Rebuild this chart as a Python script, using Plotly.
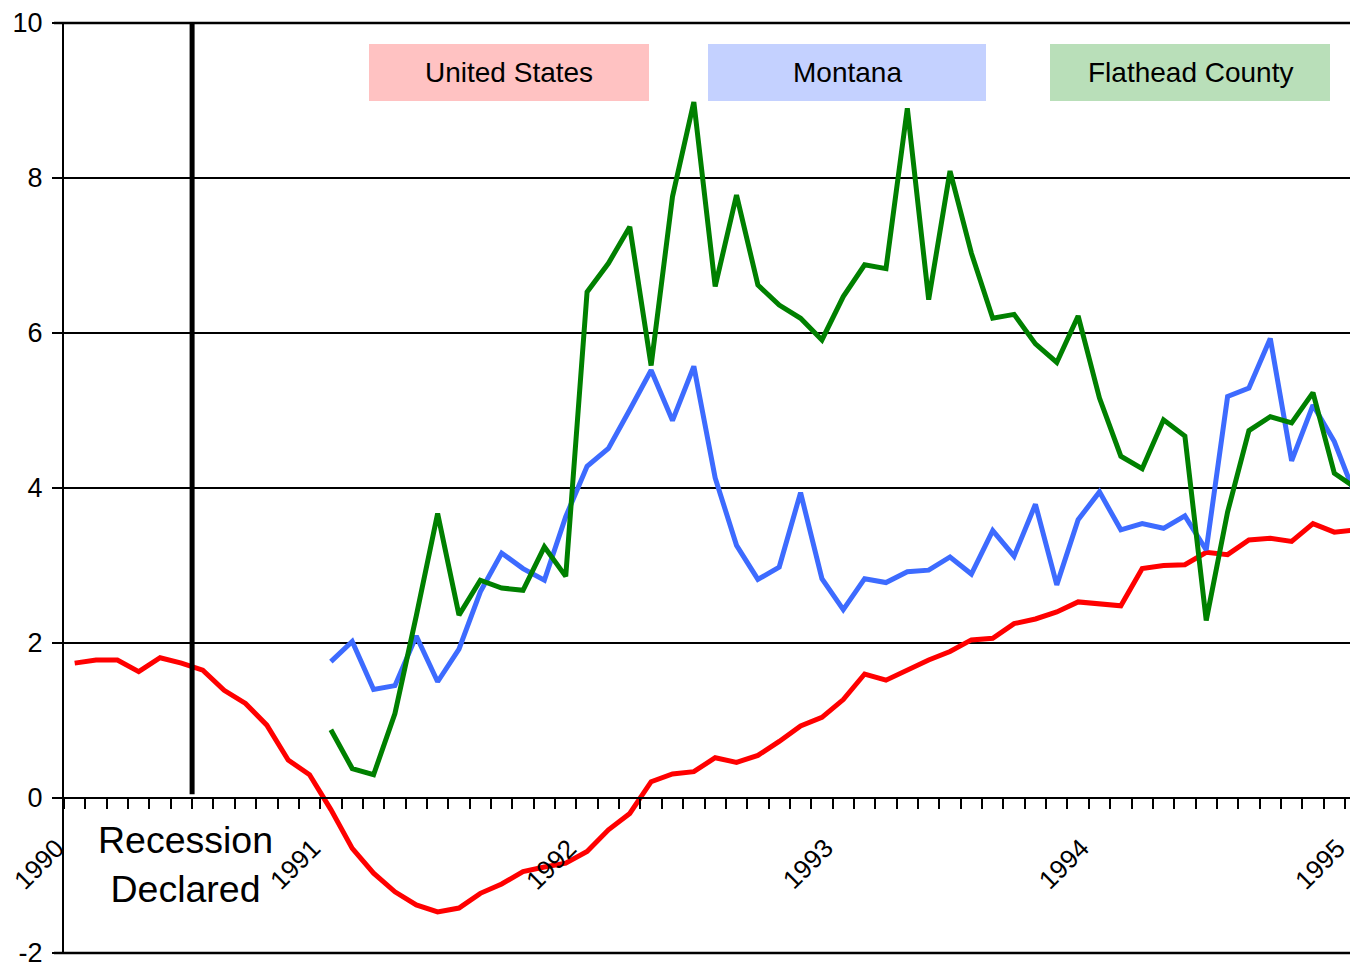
import numpy as np
import plotly.graph_objects as go

# ---- data (monthly, Jan 1990 .. Jan 1995) ----
year_labels = ["1990", "1991", "1992", "1993", "1994", "1995"]
series_names = ["United States", "Montana", "Flathead County"]
y_tick_values = [-2, 0, 2, 4, 6, 8, 10]
y_tick_labels = ["-2", "0", "2", "4", "6", "8", "10"]

us_values = [1.74, 1.78, 1.78, 1.63, 1.81, 1.74, 1.65, 1.39, 1.22, 0.94, 0.49, 0.30,
             -0.15, -0.65, -0.97, -1.21, -1.38, -1.47, -1.42, -1.23, -1.11, -0.95, -0.89, -0.84,
             -0.69, -0.41, -0.20, 0.21, 0.31, 0.34, 0.52, 0.46, 0.55, 0.73, 0.93, 1.04,
             1.27, 1.60, 1.52, 1.65, 1.78, 1.89, 2.04, 2.06, 2.25, 2.31, 2.40, 2.53,
             2.50, 2.48, 2.96, 3.00, 3.01, 3.17, 3.14, 3.33, 3.35, 3.31, 3.54, 3.43,
             3.46]

montana_values = [None] * 12 + [
             1.76, 2.02, 1.40, 1.45, 2.09, 1.50, 1.92, 2.66, 3.16, 2.96, 2.81, 3.63,
             4.28, 4.51, 5.01, 5.52, 4.87, 5.57, 4.13, 3.26, 2.82, 2.98, 3.94, 2.83,
             2.43, 2.83, 2.78, 2.92, 2.94, 3.11, 2.89, 3.45, 3.12, 3.79, 2.75, 3.59,
             3.95, 3.46, 3.54, 3.48, 3.64, 3.20, 5.18, 5.29, 5.93, 4.35, 5.07, 4.60,
             3.89]

flathead_values = [None] * 12 + [
             0.88, 0.38, 0.30, 1.09, 2.35, 3.67, 2.36, 2.81, 2.71, 2.68, 3.24, 2.86,
             6.53, 6.90, 7.37, 5.58, 7.76, 8.98, 6.60, 7.78, 6.62, 6.36, 6.19, 5.91,
             6.47, 6.88, 6.83, 8.90, 6.43, 8.09, 7.03, 6.19, 6.24, 5.86, 5.62, 6.22,
             5.16, 4.41, 4.25, 4.88, 4.67, 2.29, 3.69, 4.74, 4.92, 4.84, 5.23, 4.19,
             4.00]

recession_month = 6  # July 1990
recession_text = "Recession<br>Declared"

# ---- layout constants (page pixels; the page body adds an 8px offset) ----
OFF = 8
W, H = 1358, 968
PLOT_LEFT_PAGE, PLOT_TOP_PAGE, PLOT_BOTTOM_PAGE = 64, 23, 953
ML = PLOT_LEFT_PAGE - OFF
MT = PLOT_TOP_PAGE - OFF
PH = PLOT_BOTTOM_PAGE - PLOT_TOP_PAGE
MB = H - MT - PH
MR = 0
PW = W - ML - MR
px_per_month = 21.35
x_end = PW / px_per_month

months = np.arange(len(us_values)) + 0.5   # points centred in each month slot

line_colors = ["#ff0000", "#3d6bff", "#008000"]
box_colors = ["rgba(255,110,110,0.42)", "rgba(100,135,255,0.38)", "rgba(70,170,70,0.38)"]
FONT = "Liberation Sans, Arial, sans-serif"


def pxx(page_px):
    return (page_px - PLOT_LEFT_PAGE) / PW


def pxy(page_py):
    return (PLOT_BOTTOM_PAGE - page_py) / PH


fig = go.Figure()
for name, vals, col in zip(series_names, [us_values, montana_values, flathead_values], line_colors):
    fig.add_trace(go.Scatter(x=months, y=vals, mode="lines", name=name,
                             line=dict(color=col, width=5), connectgaps=False,
                             showlegend=False))

# recession line
fig.add_shape(type="line", xref="x", yref="y", x0=recession_month, x1=recession_month,
              y0=0.05, y1=10, line=dict(color="black", width=5))

# legend-like boxes
box_px = [(369, 649), (708, 986), (1050, 1330)]
for (x0, x1), name, bc in zip(box_px, series_names, box_colors):
    fig.add_shape(type="rect", xref="paper", yref="paper",
                  x0=pxx(x0), x1=pxx(x1), y0=pxy(101), y1=pxy(44),
                  line=dict(width=0), fillcolor=bc, layer="below")
    fig.add_annotation(xref="paper", yref="paper", x=pxx((x0 + x1) / 2),
                       y=pxy(73), text=name, showarrow=False,
                       font=dict(family=FONT, size=28, color="black"),
                       xanchor="center", yanchor="middle")

# recession text
fig.add_annotation(xref="paper", yref="paper", x=pxx(185), y=pxy(864),
                   text=recession_text, showarrow=False,
                   font=dict(family=FONT, size=37.5, color="black"),
                   xanchor="center", yanchor="middle", align="center")

# year labels, rotated, top-right corner at the year tick
for k, lab in enumerate(year_labels):
    fig.add_annotation(xref="x", yref="paper", x=12 * k, y=pxy(834),
                       text=lab, showarrow=False, textangle=-45,
                       font=dict(family=FONT, size=26, color="black"),
                       xanchor="right", yanchor="top", xshift=9, yshift=4)

# frame lines (top and bottom)
for yp in [0, 1]:
    fig.add_shape(type="line", xref="paper", yref="paper", x0=-10 / PW, x1=1,
                  y0=yp, y1=yp, line=dict(color="black", width=2.5))

fig.update_layout(
    width=W, height=H,
    margin=dict(l=ML, r=MR, t=MT, b=MB),
    paper_bgcolor="white", plot_bgcolor="white",
    showlegend=False,
    xaxis=dict(
        range=[0, x_end], anchor="free", position=2 / 12,
        showgrid=False, zeroline=False,
        showline=True, linecolor="black", linewidth=2,
        tickmode="array", tickvals=[12 * k for k in range(len(year_labels))],
        showticklabels=False,
        ticks="outside", ticklen=10, tickwidth=2, tickcolor="black",
        minor=dict(dtick=1, tick0=0, ticks="outside", ticklen=10, tickwidth=2,
                   tickcolor="black", showgrid=False),
    ),
    yaxis=dict(
        range=[-2, 10], tickmode="array", tickvals=y_tick_values, ticktext=y_tick_labels,
        showgrid=True, gridcolor="black", gridwidth=2,
        zeroline=True, zerolinecolor="black", zerolinewidth=2,
        showline=True, linecolor="black", linewidth=2,
        ticks="outside", ticklen=10, tickwidth=2, tickcolor="black",
        ticklabelstandoff=4, ticklabeloverflow="allow",
        tickfont=dict(family=FONT, size=27, color="black"),
    ),
)

fig.write_html("out.html")
